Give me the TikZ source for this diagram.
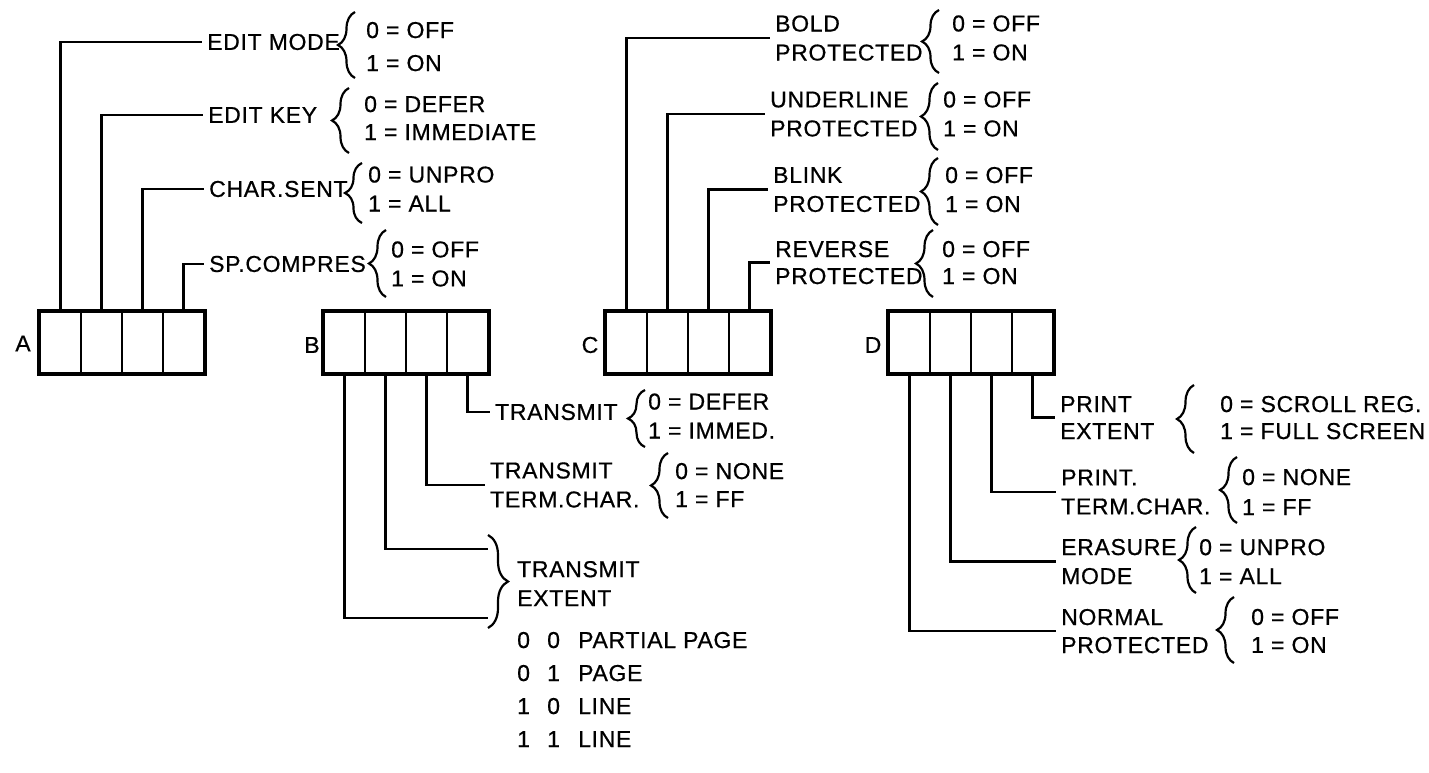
\documentclass[tikz,border=0pt]{standalone}
\usepackage{fontspec}
\newfontfamily\lblfont{Liberation Sans}[LetterSpace=3,FakeBold=0.6]
\usetikzlibrary{decorations.pathreplacing}
\begin{document}
\begin{tikzpicture}[x=1pt,y=-1pt,
  every node/.style={font=\lblfont\fontsize{23}{29}\selectfont, text=black},
  cell/.style={draw, line width=2.2pt, minimum width=41pt, minimum height=61pt, inner sep=0pt},
  outerbox/.style={draw, line width=3.2pt},
  wire/.style={line width=2.3pt},
  lbl/.style={anchor=west, align=left, inner xsep=5pt, inner ysep=0pt},
  vals/.style={anchor=west, align=left, inner sep=0pt},
  brc/.style={line width=2.2pt, decorate, decoration={brace, amplitude=#1}},
  brc/.default=17pt,
]
\useasboundingbox[fill=white] (0,0) rectangle (1429,773);

% ---------- registers ----------
\foreach \i in {1,...,4} {
  \node[cell] (A\i) at ({40+41*\i-20.5},342.5) {};
  \node[cell] (B\i) at ({324+41*\i-20.5},342.5) {};
  \node[cell] (C\i) at ({606+41*\i-20.5},342.5) {};
  \node[cell] (D\i) at ({889+41*\i-20.5},342.5) {};
}
\draw[outerbox] (A1.north west) rectangle (A4.south east);
\draw[outerbox] (B1.north west) rectangle (B4.south east);
\draw[outerbox] (C1.north west) rectangle (C4.south east);
\draw[outerbox] (D1.north west) rectangle (D4.south east);
\node (Alab) at (23,343.5) {A};
\node (Blab) at (312,345) {B};
\node (Clab) at (590,345) {C};
\node (Dlab) at (873,345) {D};

% ---------- A ----------
\node[lbl] (editmode) at (202,42) {EDIT MODE};
\node[lbl] (editkey) at (203,115) {EDIT KEY};
\node[lbl] (charsent) at (204,189) {CHAR.SENT};
\node[lbl] (spcomp) at (204,264) {SP.COMPRES};
\draw[wire] (A1.north) |- (editmode.west);
\draw[wire] (A2.north) |- (editkey.west);
\draw[wire] (A3.north) |- (charsent.west);
\draw[wire] (A4.north) |- (spcomp.west);
\draw[brc] (355,78) -- (355,12);
\draw[brc] (349,153) -- (349,88);
\draw[brc] (362,223) -- (362,163);
\draw[brc] (386,297) -- (386,230);
\node[vals] (editmodev) at (366,46.6) {0 = OFF\\[4pt]1 = ON};
\node[vals] (editkeyv) at (364,118) {0 = DEFER\\[-1pt]1 = IMMEDIATE};
\node[vals] (charsentv) at (368,189) {0 = UNPRO\\1 = ALL};
\node[vals] (spcompv) at (391,264) {0 = OFF\\1 = ON};

% ---------- B ----------
\node[lbl] (transmit) at (490,412) {TRANSMIT};
\node[lbl] (tterm) at (485,485) {TRANSMIT\\TERM.CHAR.};
\draw[wire] (B4.south) |- (transmit.west);
\draw[wire] (B3.south) |- (tterm.west);
\coordinate (ex1) at (488,549);
\coordinate (ex2) at (488,618);
\draw[wire] (B2.south) |- (ex1);
\draw[wire] (B1.south) |- (ex2);
\draw[brc] (645,447) -- (645,390);
\draw[brc] (668,518) -- (668,453);
\draw[brc=20pt] (488,535) -- (488,628);
\node[vals] (transmitv) at (648,416) {0 = DEFER\\1 = IMMED.};
\node[vals] (ttermv) at (675,485) {0 = NONE\\[-1pt]1 = FF};
\node[vals] (textent) at (517,583.6) {TRANSMIT\\EXTENT};
\node[anchor=base west, inner sep=0pt] (row1) at (517,648) {\makebox[30pt][l]{0}\makebox[31pt][l]{0}PARTIAL PAGE};
\node[anchor=base west, inner sep=0pt] (row2) at (517,681) {\makebox[30pt][l]{0}\makebox[31pt][l]{1}PAGE};
\node[anchor=base west, inner sep=0pt] (row3) at (517,714) {\makebox[30pt][l]{1}\makebox[31pt][l]{0}LINE};
\node[anchor=base west, inner sep=0pt] (row4) at (517,747) {\makebox[30pt][l]{1}\makebox[31pt][l]{1}LINE};

% ---------- C ----------
\node[lbl] (bold) at (770,38.1) {BOLD\\PROTECTED};
\node[lbl] (under) at (765,114.1) {UNDERLINE\\PROTECTED};
\node[lbl] (blink) at (768,189.6) {BLINK\\PROTECTED};
\node[lbl] (rev) at (770,262.6) {REVERSE\\[-2pt]PROTECTED};
\draw[wire] (C1.north) |- (bold.west);
\draw[wire] (C2.north) |- (under.west);
\draw[wire] (C3.north) |- (blink.west);
\draw[wire] (C4.north) |- (rev.west);
\draw[brc] (939,73) -- (939,10);
\draw[brc] (938,150) -- (938,83);
\draw[brc] (938,225) -- (938,158);
\draw[brc] (933,297) -- (933,230);
\node[vals] (boldv) at (952,38) {0 = OFF\\1 = ON};
\node[vals] (underv) at (943,114) {0 = OFF\\1 = ON};
\node[vals] (blinkv) at (945,189.6) {0 = OFF\\1 = ON};
\node[vals] (revv) at (942,262.6) {0 = OFF\\[-2pt]1 = ON};

% ---------- D ----------
\node[lbl] (pext) at (1055,417.6) {PRINT\\[-2pt]EXTENT};
\node[lbl] (pterm) at (1056,492.1) {PRINT.\\TERM.CHAR.};
\node[lbl] (erase) at (1056,561.6) {ERASURE\\MODE};
\node[lbl] (normal) at (1056,631.1) {NORMAL\\[-1pt]PROTECTED};
\draw[wire] (D4.south) |- (pext.west);
\draw[wire] (D3.south) |- (pterm.west);
\draw[wire] (D2.south) |- (erase.west);
\draw[wire] (D1.south) |- (normal.west);
\draw[brc] (1194,453) -- (1194,385);
\draw[brc] (1237,523) -- (1237,457);
\draw[brc] (1196,593) -- (1196,527);
\draw[brc] (1234,663) -- (1234,597);
\node[vals] (pextv) at (1220,417.6) {0 = SCROLL REG.\\[-2pt]1 = FULL SCREEN};
\node[vals] (ptermv) at (1242,492) {0 = NONE\\[1pt]1 = FF};
\node[vals] (erasev) at (1199,561.6) {0 = UNPRO\\1 = ALL};
\node[vals] (normalv) at (1251,631) {0 = OFF\\[-1pt]1 = ON};
\end{tikzpicture}
\end{document}
